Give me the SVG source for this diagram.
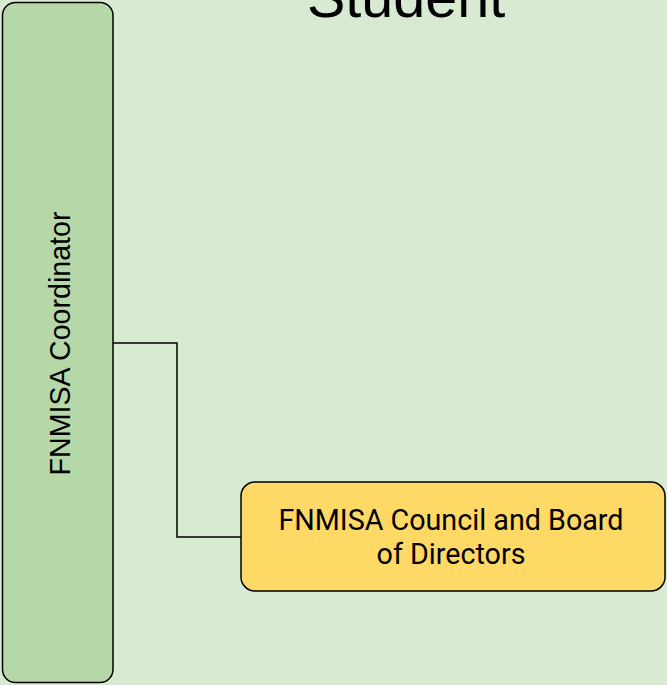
<svg xmlns="http://www.w3.org/2000/svg" width="667" height="685" viewBox="0 0 667 685">
<style>
.node{stroke:#000;stroke-width:1.5}
.conn{fill:none;stroke:#000;stroke-width:1.5}
.t{fill:#000}
</style>
<rect x="0" y="0" width="667" height="685" fill="#d9ead3"/>
<text x="406" y="17" font-family="Liberation Sans, Arial, sans-serif" font-size="57.5" text-anchor="middle" class="t">Student</text>
<g id="connectors">
<path class="conn" d="M113,343 H177 V537 H241"/>
</g>
<g id="coordinator">
<rect class="node" x="2.5" y="2.5" width="110.5" height="680" rx="13" fill="#b6d7a8"/>
<text transform="translate(70,343.5) rotate(-90)" font-family="Liberation Sans, Arial, sans-serif" font-size="28.6" text-anchor="middle" class="t">FNMISA Coordinator</text>
</g>
<g id="council">
<rect class="node" x="241" y="482" width="424" height="109" rx="14" fill="#ffd966"/>
<text font-family="Roboto, sans-serif" font-size="28.7" text-anchor="middle" class="t"><tspan x="451" y="529.5">FNMISA Council and Board</tspan><tspan x="451" y="563.5">of Directors</tspan></text>
</g>
</svg>
